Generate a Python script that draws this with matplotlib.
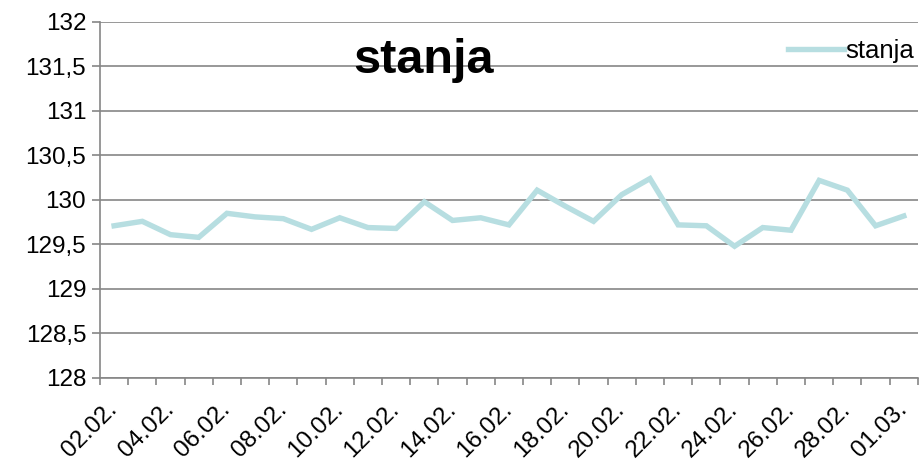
import matplotlib
matplotlib.use("Agg")
import matplotlib.pyplot as plt
import numpy as np

plt.rcParams['font.family'] = ['Liberation Sans', 'DejaVu Sans']

dates = ["02.02.", "03.02.", "04.02.", "05.02.", "06.02.", "07.02.", "08.02.", "09.02.",
         "10.02.", "11.02.", "12.02.", "13.02.", "14.02.", "15.02.", "16.02.", "17.02.",
         "18.02.", "19.02.", "20.02.", "21.02.", "22.02.", "23.02.", "24.02.", "25.02.",
         "26.02.", "27.02.", "28.02.", "29.02.", "01.03."]
stanja = [129.71, 129.76, 129.61, 129.58, 129.85, 129.81, 129.79, 129.67,
          129.80, 129.69, 129.68, 129.98, 129.77, 129.80, 129.72, 130.11,
          129.93, 129.76, 130.06, 130.24, 129.72, 129.71, 129.48, 129.69,
          129.66, 130.22, 130.11, 129.71, 129.82]
y_ticks = [128, 128.5, 129, 129.5, 130, 130.5, 131, 131.5, 132]

grey = '#868686'
fig = plt.figure(figsize=(9.21, 4.63), dpi=100)
ax = fig.add_axes([0.1086, 0.1836, 0.888, 0.769])

x = np.arange(len(dates))
ax.plot(x, stanja, color='#B7DEE1', linewidth=3.9, label='stanja', solid_joinstyle='miter')

ax.set_xlim(-0.5, len(dates) - 0.5)
ax.set_ylim(128, 132)
ax.set_yticks(y_ticks)
ax.set_yticklabels([f"{v:g}".replace('.', ',') for v in y_ticks], fontsize=17.5)
ax.yaxis.grid(True, color=grey, linewidth=1.2)
ax.set_axisbelow(True)

major = x[::2]
ax.set_xticks(major)
ax.set_xticklabels([dates[i] for i in major], rotation=45, ha='right', va='center',
                   rotation_mode='anchor', fontsize=17.5)
ax.set_xticks(np.arange(-0.5, len(dates)), minor=True)
ax.tick_params(axis='x', which='major', length=0, pad=20)
ax.tick_params(axis='x', which='minor', length=5, color=grey, width=1.2)
ax.tick_params(axis='y', length=6, color=grey, width=1.2, pad=4)

for s in ['top', 'right']:
    ax.spines[s].set_visible(False)
for s in ['left', 'bottom']:
    ax.spines[s].set_color(grey)
    ax.spines[s].set_linewidth(1.2)

ax.text(0.396, 0.893, 'stanja', transform=ax.transAxes, fontsize=35, fontweight='bold',
        ha='center', va='center')

leg = ax.legend(loc='upper right', bbox_to_anchor=(1.008, 0.982), frameon=False, fontsize=18.5,
                handlelength=2.2, handletextpad=0.05, borderaxespad=0.0)

fig.savefig('out.png', dpi=100)
